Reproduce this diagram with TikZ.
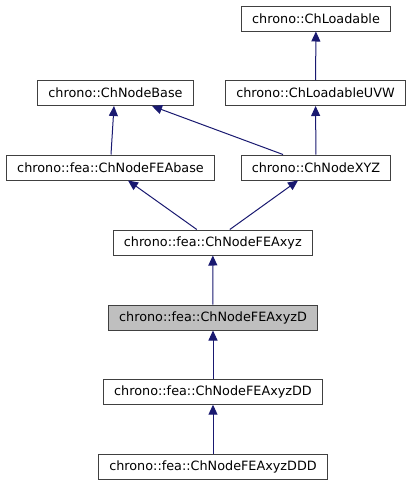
\documentclass[tikz,border=0pt]{standalone}
\usepackage{fontspec}
\setmainfont{DejaVu Sans}
\usetikzlibrary{arrows.meta}
\definecolor{edgeblue}{HTML}{191970}
\definecolor{boxline}{HTML}{404040}
\definecolor{hilite}{HTML}{BFBFBF}
\tikzset{
  cls/.style={draw=boxline, line width=1pt, fill=white, inner xsep=10.5pt, minimum height=25pt, font=\fontsize{12.8}{14}\selectfont},
  inherit/.style={draw=edgeblue, line width=1pt, -{Triangle[length=10pt,width=9pt,fill=edgeblue]}}
}

\begin{document}
\begin{tikzpicture}[x=1pt, y=-1pt]
                \useasboundingbox (0,0) rectangle (413,485);

                \node[cls] (Loadable) at (316,18.5) {chrono::ChLoadable};
                \node[cls] (NodeBase) at (115.5,93) {chrono::ChNodeBase};
                \node[cls] (LoadableUVW) at (315.5,93) {chrono::ChLoadableUVW};
                \node[cls] (FEAbase) at (110.5,167.5) {chrono::fea::ChNodeFEAbase};
                \node[cls] (NodeXYZ) at (316,167.5) {chrono::ChNodeXYZ};
                \node[cls] (FEAxyz) at (212.8,242.5) {chrono::fea::ChNodeFEAxyz};
                \node[cls, fill=hilite] (FEAxyzD) at (213,317.5) {chrono::fea::ChNodeFEAxyzD};
                \node[cls] (FEAxyzDD) at (213,391.7) {chrono::fea::ChNodeFEAxyzDD};
                \node[cls] (FEAxyzDDD) at (213,466.5) {chrono::fea::ChNodeFEAxyzDDD};

                \draw[inherit] (LoadableUVW) -- (Loadable);
                \draw[inherit] ([xshift=0.5pt]FEAbase.north) -- ([xshift=-1.5pt]NodeBase.south);
                \draw[inherit] ([xshift=-33pt]NodeXYZ.north) -- ([xshift=36.5pt]NodeBase.south);
                \draw[inherit] (NodeXYZ) -- (LoadableUVW);
                \draw[inherit] ([xshift=-16pt]FEAxyz.north) -- ([xshift=17.5pt]FEAbase.south);
                \draw[inherit] ([xshift=17pt]FEAxyz.north) -- ([xshift=-18pt]NodeXYZ.south);
                \draw[inherit] (FEAxyzD) -- (FEAxyz);
                \draw[inherit] (FEAxyzDD) -- (FEAxyzD);
                \draw[inherit] (FEAxyzDDD) -- (FEAxyzDD);

\end{tikzpicture}
\end{document}
